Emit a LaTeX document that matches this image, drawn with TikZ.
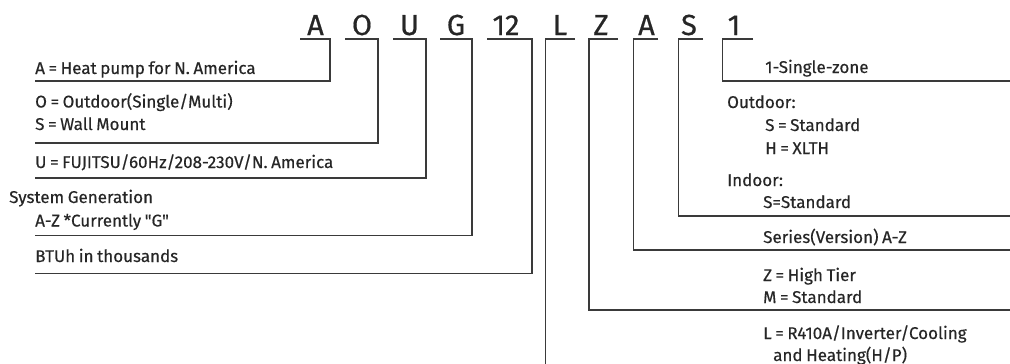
\documentclass[tikz,border=0pt]{standalone}
\usepackage{fontspec}
\setmainfont{Fira Sans}
\newfontfamily\lblfont{Fira Sans}[WordSpace=0.8,FakeBold=0.4]
\newfontfamily\codefont{Fira Sans}[FakeBold=0.6]
\definecolor{ln}{HTML}{3A3A3A}
\definecolor{tx}{HTML}{262626}
\begin{document}
\begin{tikzpicture}[x=1pt,y=-1pt,
  conn/.style={draw=ln, line width=1.6pt},
  code/.style={font=\codefont\fontsize{29}{29}\selectfont, text=tx, inner sep=0pt, anchor=base},
  lbl/.style={font=\lblfont\fontsize{17}{20}\selectfont, text=tx, inner sep=0pt, anchor=base west}]
\useasboundingbox (0,0) rectangle (1010,364);
% code letters
\node[code] (cA) at (315.5,35) {A};
\node[code] (cO) at (362,35) {O};
\node[code] (cU) at (409.5,35) {U};
\node[code] (cG) at (456,35) {G};
\node[code] (c12) at (506,35) {12};
\node[code] (cL) at (560,35) {L};
\node[code] (cZ) at (601,35) {Z};
\node[code] (cA2) at (646.5,35) {A};
\node[code] (cS) at (689,35) {S};
\node[code] (c1) at (734,35) {1};
% left labels
\node[lbl] (tA) at (35,74) {A = Heat pump for N. America};
\node[lbl] (tO) at (35,107.5) {O = Outdoor(Single/Multi)};
\node[lbl] (tS) at (35,130) {S = Wall Mount};
\node[lbl] (tU) at (35,168) {U = FUJITSU/60Hz/208-230V/N. America};
\node[lbl] (tG1) at (9,203) {System Generation};
\node[lbl] (tG2) at (35,226.5) {A-Z *Currently \symbol{34}G\symbol{34}};
\node[lbl] (t12) at (35,262) {BTUh in thousands};
% right labels
\node[lbl] (t1) at (765,73) {1-Single-zone};
\node[lbl] (tOut) at (727,108) {Outdoor:};
\node[lbl] (tOS) at (765,131) {S = Standard};
\node[lbl] (tOH) at (765,154) {H = XLTH};
\node[lbl] (tIn) at (727,186) {Indoor:};
\node[lbl] (tIS) at (763,208) {S=Standard};
\node[lbl] (tSer) at (763,243) {Series(Version) A-Z};
\node[lbl] (tZ) at (763,281) {Z = High Tier};
\node[lbl] (tM) at (763,303) {M = Standard};
\node[lbl] (tL1) at (763,339) {L = R410A/Inverter/Cooling};
\node[lbl] (tL2) at (773,361) {and Heating(H/P)};
% connector coordinates
\coordinate (uA0) at (300,39);  \coordinate (uA1) at (330,39);  \coordinate (eA) at (35,81);
\coordinate (uO0) at (345,39);  \coordinate (uO1) at (378,39);  \coordinate (eO) at (35,143);
\coordinate (uU0) at (393,39);  \coordinate (uU1) at (426,39);  \coordinate (eU) at (35,178);
\coordinate (uG0) at (440,39);  \coordinate (uG1) at (472,39);  \coordinate (eG) at (35,235.5);
\coordinate (u120) at (487,39); \coordinate (u121) at (532,39); \coordinate (e12) at (35,273.5);
\coordinate (uL1) at (575,39);  \coordinate (uL0) at (545.5,39); \coordinate (eL) at (545.5,364);
\coordinate (uZ1) at (618,39);  \coordinate (uZ0) at (589,39);  \coordinate (eZ) at (1010,310);
\coordinate (uA21) at (658,39); \coordinate (uA20) at (633.5,39); \coordinate (eA2) at (1010,250);
\coordinate (uS1) at (703,39);  \coordinate (uS0) at (678.5,39); \coordinate (eS) at (1010,216);
\coordinate (u11) at (753,39);  \coordinate (u10) at (722.5,39); \coordinate (e1) at (1010,81);
% connectors
\draw[conn] (uA0) -- (uA1) |- (eA);
\draw[conn] (uO0) -- (uO1) |- (eO);
\draw[conn] (uU0) -- (uU1) |- (eU);
\draw[conn] (uG0) -- (uG1) |- (eG);
\draw[conn] (u120) -- (u121) |- (e12);
\draw[conn] (uL1) -- (uL0) -- (eL);
\draw[conn] (uZ1) -- (uZ0) |- (eZ);
\draw[conn] (uA21) -- (uA20) |- (eA2);
\draw[conn] (uS1) -- (uS0) |- (eS);
\draw[conn] (u11) -- (u10) |- (e1);
\end{tikzpicture}
\end{document}
